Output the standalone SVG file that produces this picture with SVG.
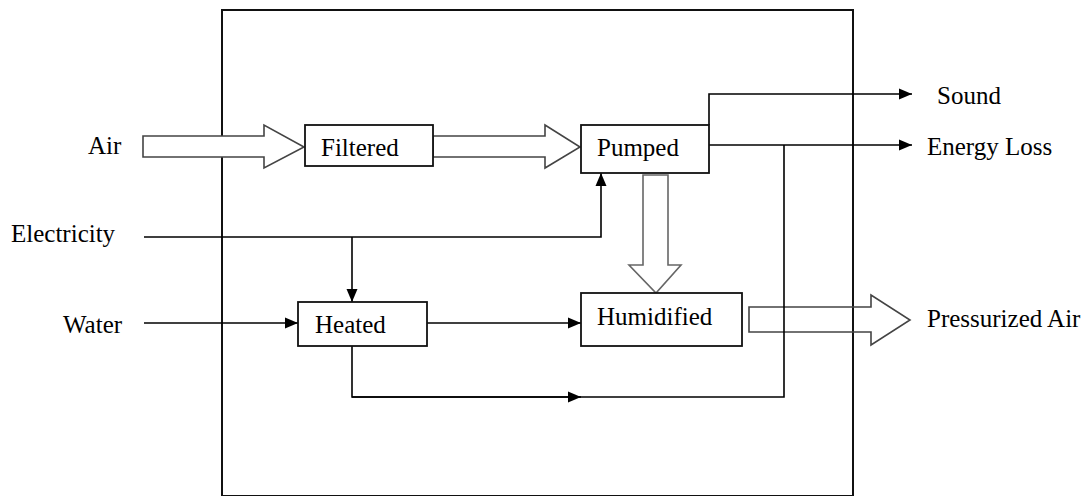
<svg xmlns="http://www.w3.org/2000/svg" width="1090" height="496" viewBox="0 0 1090 496">
<style>
text{font-family:"Liberation Serif","Times New Roman",serif;font-size:25px;fill:#000}
.box{fill:#fff;stroke:#111;stroke-width:1.8}
.ln{fill:none;stroke:#000;stroke-width:1.6}
.blk{fill:#fff;stroke:#444;stroke-width:1.6;stroke-linejoin:miter}
.blk2{fill:#fff;stroke:#666;stroke-width:1.6}
</style>
<defs>
<marker id="ah" markerUnits="userSpaceOnUse" markerWidth="13" markerHeight="13" viewBox="0 0 13 13" refX="13" refY="6.5" orient="auto">
<path d="M0,1 L13,6.5 L0,12 Z" fill="#000"/>
</marker>
</defs>
<rect id="system" x="222" y="10" width="631" height="486" fill="#fff" stroke="#111" stroke-width="2"/>
<g id="connectors">
<polygon class="blk" points="143,136 264,136 264,125 304,147 264,168 264,157 143,157"/>
<polygon class="blk" points="433,136 545,136 545,125 580,147 545,168 545,157 433,157"/>
<polygon class="blk2" points="643,175 668,175 668,265 681,265 656,293 629,265 643,265"/>
<polygon class="blk" style="fill:none" points="749,307 871,307 871,295 910,320 871,345 871,332 749,332"/>
<polyline class="ln" points="709,125 709,94 912,94" marker-end="url(#ah)"/>
<polyline class="ln" points="709,145 912,145" marker-end="url(#ah)"/>
<polyline class="ln" points="144,237 601,237 601,173" marker-end="url(#ah)"/>
<polyline class="ln" points="352,237 352,302" marker-end="url(#ah)"/>
<polyline class="ln" points="144,323 298,323" marker-end="url(#ah)"/>
<polyline class="ln" points="427,323 581,323" marker-end="url(#ah)"/>
<polyline class="ln" points="352,346 352,397 784,397 784,145"/>
<polyline class="ln" points="352,397 581,397" marker-end="url(#ah)"/>
</g>
<g id="filtered"><rect class="box" x="305" y="125" width="128" height="41"/><text x="321" y="156">Filtered</text></g>
<g id="pumped"><rect class="box" x="581" y="125" width="128" height="48"/><text x="597" y="156">Pumped</text></g>
<g id="heated"><rect class="box" x="298" y="302" width="129" height="44"/><text x="315" y="333">Heated</text></g>
<g id="humidified"><rect class="box" x="581" y="293" width="161" height="53"/><text x="597" y="325">Humidified</text></g>
<g id="air"><text x="88" y="154">Air</text></g>
<g id="electricity"><text x="11" y="242">Electricity</text></g>
<g id="water"><text x="63" y="333">Water</text></g>
<g id="sound"><text x="937" y="104">Sound</text></g>
<g id="energy-loss"><text x="927" y="155">Energy Loss</text></g>
<g id="pressurized-air"><text x="927" y="327">Pressurized Air</text></g>
</svg>
